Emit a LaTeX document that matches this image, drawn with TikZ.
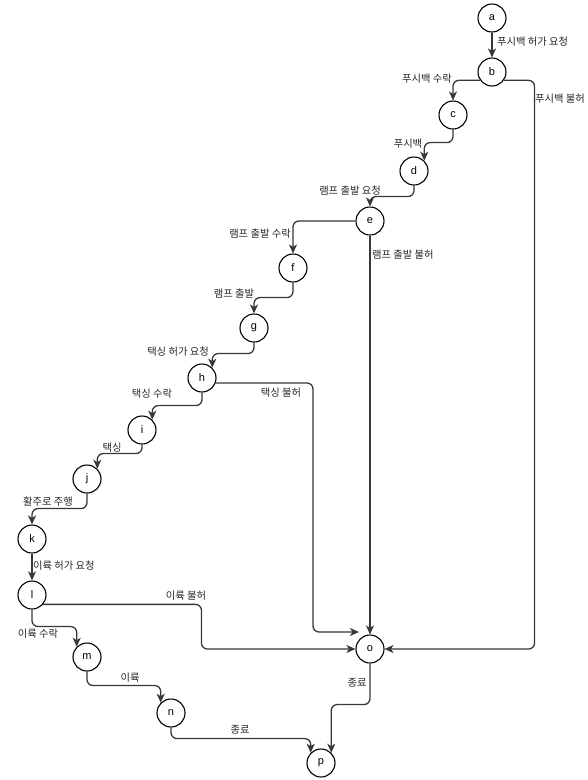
\documentclass[tikz,border=0pt]{standalone}
\usepackage{fontspec}
\setmainfont{Liberation Sans}
\newfontfamily\krfont{Noto Sans CJK KR}
\usetikzlibrary{arrows.meta,calc}
\tikzset{
  st/.style={circle,draw=black,line width=1.1pt,minimum size=28pt,inner sep=0pt,font=\fontsize{11}{12}\selectfont,fill=white},
  conn/.style={draw=black!78,line width=1.3pt,rounded corners=6pt,-{Stealth[length=9pt,width=8pt,inset=2.5pt]}},
  lbl/.style={font=\krfont\fontsize{10.3}{12}\selectfont,inner sep=0pt,text=black!85}
}
\begin{document}
\begin{tikzpicture}[x=1pt,y=-1pt]
\useasboundingbox (0,0) rectangle (588,780);
\node[st] (a) at (492,18) {a};
\node[st] (b) at (492,72) {b};
\node[st] (c) at (453,115) {c};
\node[st] (d) at (414,171) {d};
\node[st] (e) at (370,221) {e};
\node[st] (f) at (293,268) {f};
\node[st] (g) at (254,328) {g};
\node[st] (h) at (202,378) {h};
\node[st] (i) at (142,430) {i};
\node[st] (j) at (87,479) {j};
\node[st] (k) at (32,539) {k};
\node[st] (l) at (32,595) {l};
\node[st] (m) at (87,657) {m};
\node[st] (n) at (171,713) {n};
\node[st] (o) at (370,649) {o};
\node[st] (p) at (321,763) {p};
\coordinate (oin) at ($(o.center)+(-11,-17)$);

\draw[conn] (a) -- (b);
\draw[conn] (b.215) -| (c.north);
\draw[conn] (b.325) -| ($(o.east)+(150,0)$) -- (o.east);
\draw[conn] (c.south) -- ++(0,13) -| (d.45);
\draw[conn] (d.south) -- ++(0,11) -| (e.north);
\draw[conn] (e.west) -| (f.north);
\draw[conn] (e.south) -- (o.north);
\draw[conn] (f.south) -- ++(0,15) -| (g.north);
\draw[conn] (g.south) -- ++(0,11) -| (h.45);
\draw[conn] (h.south) -- ++(0,13) -| (i.45);
\draw[conn] (h.340) -| ($(oin)+(-46,0)$) -- (oin);
\draw[conn] (i.south) -- ++(0,9) -| (j.45);
\draw[conn] (j.south) -- ++(0,15) -| (k.north);
\draw[conn] (k) -- (l);
\draw[conn] (l.south) -- ++(0,17) -| (m.135);
\draw[conn] (l.320) -| ($(o.west)+(-154,0)$) -- (o.west);
\draw[conn] (m.south) -- ++(0,14) -| (n.135);
\draw[conn] (n.south) -- ++(0,11) -| (p.135);
\draw[conn] (o.south) -- ++(0,41) -| (p.45);

\node[lbl,anchor=west] (la) at (497,42) {푸시백 허가 요청};
\node[lbl] (lbc) at (427,79) {푸시백 수락};
\node[lbl,anchor=west] (lbo) at (535,99) {푸시백 불허};
\node[lbl] (lcd) at (408,144) {푸시백};
\node[lbl] (lde) at (350,191) {램프 출발 요청};
\node[lbl] (lef) at (260,234) {램프 출발 수락};
\node[lbl,anchor=west] (leo) at (372,255) {램프 출발 불허};
\node[lbl] (lfg) at (234,294) {램프 출발};
\node[lbl] (lgh) at (178,352) {택싱 허가 요청};
\node[lbl] (lhi) at (152,394) {택싱 수락};
\node[lbl] (lho) at (281,393) {택싱 불허};
\node[lbl] (lij) at (112,448) {택싱};
\node[lbl] (ljk) at (48,502) {활주로 주행};
\node[lbl,anchor=west] (lkl) at (33,566) {이륙 허가 요청};
\node[lbl] (llm) at (38,634) {이륙 수락};
\node[lbl] (llo) at (186,596) {이륙 불허};
\node[lbl] (lmn) at (130,678) {이륙};
\node[lbl] (lnp) at (240,730) {종료};
\node[lbl] (lop) at (357,683) {종료};
\end{tikzpicture}
\end{document}
